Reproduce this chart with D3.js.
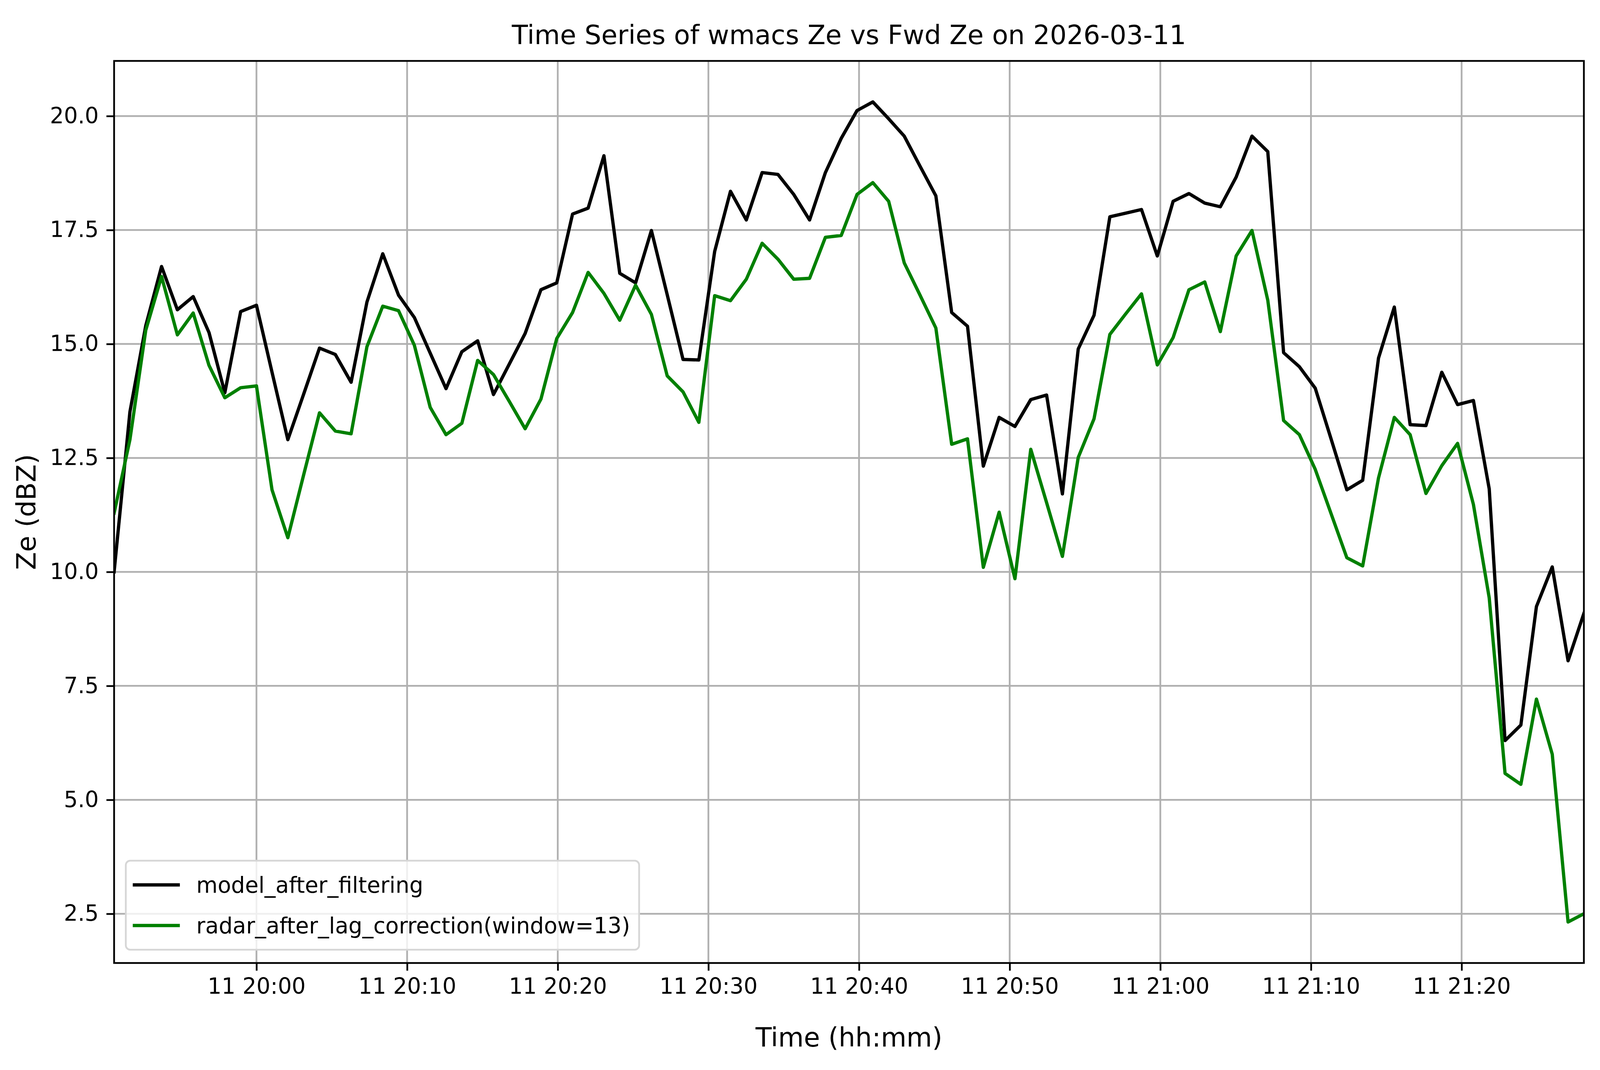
<!DOCTYPE html>
<html lang="en">
<head>
  <meta charset="UTF-8" />
  <title>Time Series of wmacs Ze vs Fwd Ze on 2026-03-11</title>
  <script src="https://d3js.org/d3.v7.min.js"></script>
  <style>
    html, body {
      margin: 0;
      padding: 0;
      overflow: hidden;
      background: #fff;
    }
    svg {
      display: block;
      background-color: #fff;
      font-family: "DejaVu Sans", sans-serif;
    }
  </style>
</head>
<body>
  <div id="chart"></div>

  <script>
    // data (one sample every ~63 s)
    const day = "2026-03-11";
    const times = [
      "19:50:33", "19:51:36", "19:52:39", "19:53:42", "19:54:45", "19:55:48", "19:56:51", "19:57:54", "19:58:57", "20:00:00",
      "20:01:02", "20:02:05", "20:03:08", "20:04:11", "20:05:14", "20:06:17", "20:07:20", "20:08:23", "20:09:26", "20:10:29",
      "20:11:32", "20:12:35", "20:13:38", "20:14:41", "20:15:44", "20:16:47", "20:17:50", "20:18:53", "20:19:56", "20:20:59",
      "20:22:01", "20:23:04", "20:24:07", "20:25:10", "20:26:13", "20:27:16", "20:28:19", "20:29:22", "20:30:25", "20:31:28",
      "20:32:31", "20:33:34", "20:34:37", "20:35:40", "20:36:43", "20:37:46", "20:38:49", "20:39:52", "20:40:55", "20:41:58",
      "20:43:00", "20:44:03", "20:45:06", "20:46:09", "20:47:12", "20:48:15", "20:49:18", "20:50:21", "20:51:24", "20:52:27",
      "20:53:30", "20:54:33", "20:55:36", "20:56:39", "20:57:42", "20:58:45", "20:59:48", "21:00:51", "21:01:54", "21:02:57",
      "21:03:59", "21:05:02", "21:06:05", "21:07:08", "21:08:11", "21:09:14", "21:10:17", "21:11:20", "21:12:23", "21:13:26",
      "21:14:29", "21:15:32", "21:16:35", "21:17:38", "21:18:41", "21:19:44", "21:20:47", "21:21:50", "21:22:53", "21:23:56",
      "21:24:58", "21:26:01", "21:27:04", "21:28:07"
    ];

    const modelZe = [
      10.00, 13.51, 15.40, 16.70, 15.75, 16.04, 15.25, 13.93, 15.71, 15.85,
      14.38, 12.90, 13.90, 14.91, 14.77, 14.16, 15.92, 16.98, 16.07, 15.58,
      14.80, 14.02, 14.83, 15.07, 13.89, 14.56, 15.23, 16.19, 16.34, 17.85,
      17.98, 19.13, 16.55, 16.34, 17.49, 16.08, 14.66, 14.65, 17.03, 18.35,
      17.72, 18.76, 18.72, 18.28, 17.72, 18.76, 19.51, 20.12, 20.31, 19.94,
      19.56, 18.90, 18.25, 15.69, 15.39, 12.32, 13.39, 13.19, 13.78, 13.88,
      11.71, 14.89, 15.63, 17.79, 17.87, 17.95, 16.93, 18.13, 18.30, 18.09,
      18.01, 18.66, 19.56, 19.22, 14.81, 14.50, 14.03, 12.92, 11.80, 12.01,
      14.69, 15.81, 13.23, 13.21, 14.38, 13.67, 13.76, 11.82, 6.30, 6.64,
      9.24, 10.11, 8.05, 9.09
    ];

    const radarZe = [
      11.29, 12.90, 15.30, 16.48, 15.20, 15.68, 14.53, 13.82, 14.04, 14.08,
      11.80, 10.75, 12.13, 13.49, 13.09, 13.03, 14.94, 15.83, 15.73, 14.97,
      13.61, 13.01, 13.26, 14.64, 14.33, 13.74, 13.14, 13.79, 15.12, 15.69,
      16.57, 16.11, 15.52, 16.29, 15.65, 14.30, 13.95, 13.28, 16.06, 15.95,
      16.42, 17.21, 16.86, 16.42, 16.44, 17.34, 17.38, 18.28, 18.54, 18.13,
      16.78, 16.07, 15.35, 12.80, 12.92, 10.10, 11.31, 9.85, 12.69, 11.52,
      10.34, 12.51, 13.36, 15.21, 15.66, 16.10, 14.54, 15.14, 16.19, 16.36,
      15.27, 16.93, 17.49, 15.96, 13.32, 13.01, 12.25, 11.28, 10.31, 10.13,
      12.06, 13.39, 13.01, 11.72, 12.33, 12.82, 11.48, 9.43, 5.58, 5.34,
      7.21, 6.00, 2.32, 2.50
    ];

    const yTicks = [2.5, 5.0, 7.5, 10.0, 12.5, 15.0, 17.5, 20.0];
    const seriesNames = ["model_after_filtering", "radar_after_lag_correction(window=13)"];
    const seriesColors = ["#000000", "#008000"];

    // layout is given in pixels of the 5062 x 2740 figure and scaled to the window
    const W = window.innerWidth || 5062;
    const H = window.innerHeight || 2740;
    const sx = W / 5062, sy = H / 2740;
    const k = Math.min(sx, sy);
    const pt = 6.94 * k; // one typographic point (~500 dpi)

    const margin = { top: 156 * sy, right: 51 * sx, bottom: 274 * sy, left: 361 * sx };
    const width = W - margin.left - margin.right;
    const height = H - margin.top - margin.bottom;

    const parse = d3.timeParse("%Y-%m-%d %H:%M:%S");
    const dates = times.map(t => parse(`${day} ${t}`));
    const series = [modelZe, radarZe].map((vals, i) => ({
      name: seriesNames[i],
      color: seriesColors[i],
      values: vals.map((v, j) => ({ t: dates[j], v }))
    }));

    const svg = d3.select("#chart")
      .append("svg")
      .attr("width", W)
      .attr("height", H);

    const g = svg.append("g")
      .attr("transform", `translate(${margin.left},${margin.top})`);

    // scales, autoscaled like matplotlib (5% y margin, tight x)
    const x = d3.scaleTime()
      .domain(d3.extent(dates))
      .range([0, width]);

    const allVals = modelZe.concat(radarZe);
    const [lo, hi] = d3.extent(allVals);
    const pad = (hi - lo) * 0.05;
    const y = d3.scaleLinear()
      .domain([lo - pad, hi + pad])
      .range([height, 0]);

    const xTicks = d3.timeMinute.every(10).range(x.domain()[0], x.domain()[1]);

    // grid
    const grid = g.append("g")
      .attr("stroke", "#b0b0b0")
      .attr("stroke-width", 0.8 * pt);

    grid.selectAll("line.gx")
      .data(xTicks)
      .join("line")
      .attr("class", "gx")
      .attr("x1", d => x(d)).attr("x2", d => x(d))
      .attr("y1", 0).attr("y2", height);

    grid.selectAll("line.gy")
      .data(yTicks)
      .join("line")
      .attr("class", "gy")
      .attr("x1", 0).attr("x2", width)
      .attr("y1", d => y(d)).attr("y2", d => y(d));

    // lines
    svg.append("defs").append("clipPath")
      .attr("id", "plot-clip")
      .append("rect")
      .attr("width", width)
      .attr("height", height);

    const line = d3.line()
      .x(d => x(d.t))
      .y(d => y(d.v));

    g.append("g")
      .attr("clip-path", "url(#plot-clip)")
      .selectAll("path")
      .data(series)
      .join("path")
      .attr("d", d => line(d.values))
      .attr("fill", "none")
      .attr("stroke", d => d.color)
      .attr("stroke-width", 1.5 * pt)
      .attr("stroke-linejoin", "round")
      .attr("stroke-linecap", "square");

    // axes
    const xAxis = g.append("g")
      .attr("transform", `translate(0,${height})`)
      .call(d3.axisBottom(x)
        .tickValues(xTicks)
        .tickFormat(d3.timeFormat("%d %H:%M"))
        .tickSize(3.5 * pt)
        .tickPadding(3.5 * pt));

    const yAxis = g.append("g")
      .call(d3.axisLeft(y)
        .tickValues(yTicks)
        .tickFormat(d3.format(".1f"))
        .tickSize(3.5 * pt)
        .tickPadding(3.5 * pt));

    [xAxis, yAxis].forEach(ax => {
      ax.select(".domain").remove();
      ax.selectAll(".tick line")
        .attr("stroke", "#000")
        .attr("stroke-width", 0.8 * pt);
      ax.selectAll(".tick text")
        .attr("fill", "#000")
        .style("font-size", `${10 * pt}px`)
        .style("font-family", "DejaVu Sans");
    });

    // frame
    g.append("rect")
      .attr("width", width)
      .attr("height", height)
      .attr("fill", "none")
      .attr("stroke", "#000")
      .attr("stroke-width", 0.8 * pt);

    // labels
    svg.append("text")
      .attr("x", margin.left + width / 2)
      .attr("y", margin.top - 43 * sy)
      .attr("text-anchor", "middle")
      .style("font-size", `${12 * pt}px`)
      .text("Time Series of wmacs Ze vs Fwd Ze on 2026-03-11");

    svg.append("text")
      .attr("x", margin.left + width / 2)
      .attr("y", 2680 * sy)
      .attr("text-anchor", "middle")
      .style("font-size", `${12 * pt}px`)
      .text("Time (hh:mm)");

    svg.append("text")
      .attr("transform", `translate(${113 * sx},${margin.top + height / 2}) rotate(-90)`)
      .attr("text-anchor", "middle")
      .style("font-size", `${12 * pt}px`)
      .text("Ze (dBZ)");

    // legend (lower left)
    const legW = 1624 * sx, legH = 228 * sy;
    const legend = g.append("g")
      .attr("transform", `translate(${37 * sx},${height - 34 * sy - legH})`);

    legend.append("rect")
      .attr("width", legW)
      .attr("height", legH)
      .attr("rx", 14 * k)
      .attr("fill", "#fff")
      .attr("fill-opacity", 0.8)
      .attr("stroke", "#d6d6d6")
      .attr("stroke-width", 0.8 * pt);

    series.forEach((s, i) => {
      const row = legend.append("g")
        .attr("transform", `translate(0,${legH / 2 + (i - 0.5) * 104 * sy})`);

      row.append("line")
        .attr("x1", 22 * sx).attr("x2", 171 * sx)
        .attr("stroke", s.color)
        .attr("stroke-width", 1.5 * pt);

      row.append("text")
        .attr("x", 223 * sx)
        .attr("dy", "0.35em")
        .style("font-size", `${10 * pt}px`)
        .text(s.name);
    });
  </script>
</body>
</html>
